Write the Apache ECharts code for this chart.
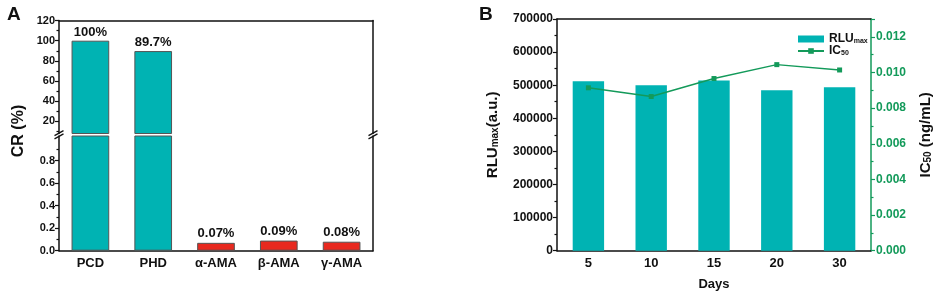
<!DOCTYPE html>
<html>
<head>
<meta charset="utf-8">
<script src="https://cdn.jsdelivr.net/npm/echarts@6/dist/echarts.min.js"></script>
<style>
  html, body { margin: 0; padding: 0; background: #fff; }
  #chart { width: 934px; height: 293px; }
</style>
</head>
<body>
<div id="chart"></div>
<script>
// ---------- data ----------
const crCategories = ['PCD', 'PHD', 'α-AMA', 'β-AMA', 'γ-AMA'];
const crValues = [100, 89.7, 0.07, 0.09, 0.08];
const crLabels = ['100%', '89.7%', '0.07%', '0.09%', '0.08%'];
const crUpperTicks = [20, 40, 60, 80, 100, 120];
const crUpperMinor = [10, 30, 50, 70, 90, 110];
const crLowerTicks = [0, 0.2, 0.4, 0.6, 0.8];
const crLowerMinor = [0.1, 0.3, 0.5, 0.7, 0.9];

const days = ['5', '10', '15', '20', '30'];
const rluValues = [512000, 500000, 514000, 485000, 494000];
const ic50Values = [0.00914, 0.00865, 0.00966, 0.01044, 0.01014];

// ---------- look ----------
const FONT = '"Liberation Sans", Arial, sans-serif';
const TEAL = '#00b3b3';
const RED = '#e8291f';
const GREEN = '#139a5a';
const INK = '#111';

// panel geometry (grids)
const A = { left: 59, width: 314, top: 20.5, breakTop: 133.5, breakBottom: 136, bottom: 250.7 };
const B = { left: 557, width: 314, top: 19, bottom: 250.7 };

const lineOnly = (color) => ({
  axisLine: { show: true, lineStyle: { color, width: 1.5 } },
  axisTick: { show: false }, axisLabel: { show: false }, splitLine: { show: false },
});
const tickLabel = { color: INK, fontFamily: FONT, fontWeight: 'bold', fontSize: 11 };
const nameRich = {
  a: { fontSize: 15, fontWeight: 'bold', color: INK, fontFamily: FONT, verticalAlign: 'bottom' },
  b: { fontSize: 10, fontWeight: 'bold', color: INK, fontFamily: FONT, verticalAlign: 'bottom' },
};

const splitAt = 1; // values above this go to the upper part of panel A

const chart = echarts.init(document.getElementById('chart'), null, { renderer: 'canvas' });

function breakMark(x, y) {
  return [-1.6, 1.6].map((d) => ({
    type: 'line',
    shape: { x1: x - 4.5, y1: y + d + 2.5, x2: x + 4.5, y2: y + d - 2.5 },
    style: { stroke: INK, lineWidth: 1.3 },
  }));
}
const breakY = (A.breakTop + A.breakBottom) / 2;

chart.setOption({
  animation: false,
  textStyle: { fontFamily: FONT },
  title: [
    { text: 'A', left: 2, top: 0, textStyle: { fontSize: 19, fontWeight: 'bold', color: INK, fontFamily: FONT } },
    { text: 'B', left: 474, top: 0, textStyle: { fontSize: 19, fontWeight: 'bold', color: INK, fontFamily: FONT } },
  ],
  grid: [
    { left: A.left, width: A.width, top: A.top, height: A.breakTop - A.top, outerBoundsMode: 'none' },
    { left: A.left, width: A.width, top: A.breakBottom, height: A.bottom - A.breakBottom, outerBoundsMode: 'none' },
    { left: B.left, width: B.width, top: B.top, height: B.bottom - B.top, outerBoundsMode: 'none' },
  ],
  legend: {
    orient: 'vertical', left: 792, top: 28, itemGap: 0,
    itemWidth: 26, itemHeight: 7,
    data: [
      { name: 'RLUmax', icon: 'rect' },
      { name: 'IC50' },
    ],
    formatter: (n) => n === 'RLUmax' ? '{a|RLU}{b|max}' : '{a|IC}{b|50}',
    textStyle: {
      rich: {
        a: { fontSize: 12, fontWeight: 'bold', color: INK, fontFamily: FONT, verticalAlign: 'bottom' },
        b: { fontSize: 7, fontWeight: 'bold', color: INK, fontFamily: FONT, verticalAlign: 'bottom' },
      },
    },
  },
  xAxis: [
    { type: 'category', gridIndex: 0, data: crCategories, show: false },
    { type: 'category', gridIndex: 0, data: crCategories, position: 'top', ...lineOnly(INK) },
    {
      type: 'category', gridIndex: 1, data: crCategories,
      axisLine: { lineStyle: { color: INK, width: 1.5 } },
      axisTick: { alignWithLabel: true, length: 4, lineStyle: { color: INK, width: 1.2 } },
      axisLabel: { ...tickLabel, fontSize: 13, margin: 6 },
    },
    {
      type: 'category', gridIndex: 2, data: days,
      axisLine: { lineStyle: { color: INK, width: 1.5 } },
      axisTick: { alignWithLabel: true, length: 4, lineStyle: { color: INK, width: 1.2 } },
      axisLabel: { ...tickLabel, fontSize: 13, margin: 6 },
      name: 'Days', nameLocation: 'middle', nameGap: 27,
      nameTextStyle: { fontSize: 13, fontWeight: 'bold', color: INK, fontFamily: FONT },
    },
    {
      type: 'category', gridIndex: 2, data: days,
      axisLine: { show: false }, axisLabel: { show: false },
      axisTick: { length: 3, lineStyle: { color: INK, width: 1.2 } },
    },
    { type: 'category', gridIndex: 2, data: days, position: 'top', ...lineOnly(INK) },
  ],
  yAxis: [
    {
      type: 'value', gridIndex: 0, min: 8, max: 120,
      axisLine: { show: true, lineStyle: { color: INK, width: 1.5 } },
      axisTick: { show: true, length: 4, customValues: crUpperTicks, lineStyle: { color: INK, width: 1.2 } },
      axisLabel: { ...tickLabel, customValues: crUpperTicks, margin: 4 },
      splitLine: { show: false },
    },
    {
      type: 'value', gridIndex: 0, min: 8, max: 120, position: 'left',
      axisLine: { show: false }, axisLabel: { show: false }, splitLine: { show: false },
      axisTick: { show: true, length: 2.5, customValues: crUpperMinor, lineStyle: { color: INK, width: 1.2 } },
    },
    { type: 'value', gridIndex: 0, min: 8, max: 120, position: 'right', ...lineOnly(INK) },
    {
      type: 'value', gridIndex: 1, min: 0, max: 1.02,
      axisLine: { show: true, lineStyle: { color: INK, width: 1.5 } },
      axisTick: { show: true, length: 4, customValues: crLowerTicks, lineStyle: { color: INK, width: 1.2 } },
      axisLabel: { ...tickLabel, customValues: crLowerTicks, margin: 4, formatter: (v) => v.toFixed(1) },
      splitLine: { show: false },
    },
    {
      type: 'value', gridIndex: 1, min: 0, max: 1.02, position: 'left',
      axisLine: { show: false }, axisLabel: { show: false }, splitLine: { show: false },
      axisTick: { show: true, length: 2.5, customValues: crLowerMinor, lineStyle: { color: INK, width: 1.2 } },
    },
    { type: 'value', gridIndex: 1, min: 0, max: 1.02, position: 'right', ...lineOnly(INK) },
    {
      type: 'value', gridIndex: 2, min: 0, max: 700000, interval: 100000,
      axisLine: { show: true, lineStyle: { color: INK, width: 1.5 } },
      axisTick: { show: true, length: 4, lineStyle: { color: INK, width: 1.2 } },
      minorTick: { show: true, splitNumber: 2, length: 2.5, lineStyle: { color: INK, width: 1.2 } },
      axisLabel: { ...tickLabel, fontSize: 12, margin: 4, formatter: (v) => String(v) },
      splitLine: { show: false },
      name: '{a|RLU}{b|max}{a|(a.u.)}', nameLocation: 'middle', nameGap: 57, nameRotate: 90,
      nameTextStyle: { rich: nameRich },
    },
    {
      type: 'value', gridIndex: 2, min: 0, max: 0.013, interval: 0.002, position: 'right',
      axisLine: { show: true, lineStyle: { color: GREEN, width: 1.5 } },
      axisTick: { show: true, length: 4, lineStyle: { color: GREEN, width: 1.2 } },
      minorTick: { show: true, splitNumber: 2, length: 2.5, lineStyle: { color: GREEN, width: 1.2 } },
      axisLabel: { ...tickLabel, fontSize: 12, color: GREEN, margin: 5, showMaxLabel: false, formatter: (v) => v.toFixed(3) },
      splitLine: { show: false },
      name: '{a|IC}{b|50}{a| (ng/mL)}', nameLocation: 'middle', nameGap: 47, nameRotate: 90,
      nameTextStyle: { rich: nameRich },
    },
  ],
  graphic: [
    {
      type: 'text', x: 19, y: 131, rotation: Math.PI / 2,
      style: { text: 'CR (%)', font: 'bold 16px ' + FONT, fill: INK, align: 'center', verticalAlign: 'middle' },
    },
    ...breakMark(A.left, breakY),
    ...breakMark(A.left + A.width, breakY),
  ],
  series: [
    {
      type: 'bar', xAxisIndex: 0, yAxisIndex: 0, barWidth: '60%', clip: true,
      data: crValues.map((v, i) => v > splitAt ? {
        value: v,
        itemStyle: { color: TEAL },
        label: { show: true, formatter: crLabels[i] },
      } : '-'),
      itemStyle: { borderColor: '#555', borderWidth: 1 },
      label: { position: 'top', distance: 2, color: INK, fontFamily: FONT, fontWeight: 'bold', fontSize: 13 },
    },
    {
      type: 'bar', xAxisIndex: 2, yAxisIndex: 3, barWidth: '60%', clip: true,
      data: crValues.map((v, i) => ({
        value: v,
        itemStyle: { color: v > splitAt ? TEAL : RED },
        label: { show: v <= splitAt, formatter: crLabels[i] },
      })),
      itemStyle: { borderColor: '#555', borderWidth: 1 },
      label: { position: 'top', distance: 3, color: INK, fontFamily: FONT, fontWeight: 'bold', fontSize: 13 },
    },
    {
      name: 'RLUmax', type: 'bar', xAxisIndex: 3, yAxisIndex: 6, barWidth: '50%',
      data: rluValues, itemStyle: { color: TEAL },
    },
    {
      name: 'IC50', type: 'line', xAxisIndex: 3, yAxisIndex: 7,
      data: ic50Values, symbol: 'rect', symbolSize: 5,
      lineStyle: { color: GREEN, width: 1.5 }, itemStyle: { color: GREEN },
    },
  ],
});
</script>
</body>
</html>
